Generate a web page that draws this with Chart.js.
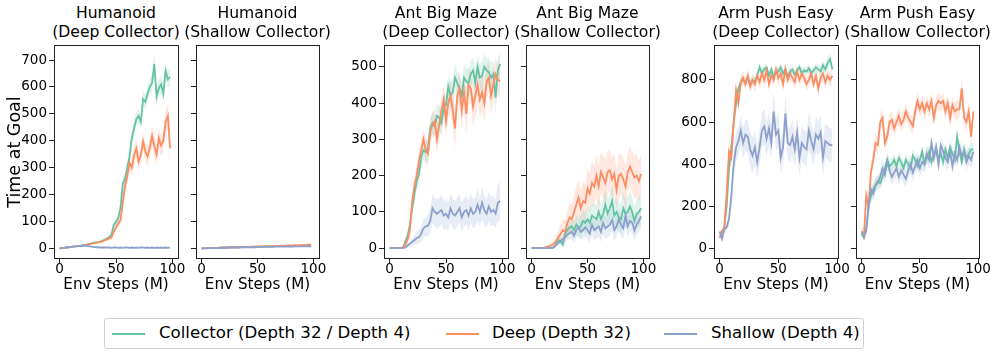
<!DOCTYPE html>
<html>
<head>
<meta charset="utf-8">
<script src="https://cdn.jsdelivr.net/npm/chart.js@4.4.1/dist/chart.umd.min.js"></script>
<style>
  body { margin: 0; background: #fff; font-family: "DejaVu Sans", sans-serif; }
  #page { position: relative; width: 996px; height: 354px; overflow: hidden; background: #fff; }
  canvas { position: absolute; }
  .ttl { position: absolute; top: 4px; width: 220px; text-align: center; font-size: 15.6px; line-height: 18.5px; color: #000; white-space: nowrap; }
  #ylab { position: absolute; left: -135.7px; top: 141.5px; width: 300px; height: 20px; line-height: 20px; text-align: center; font-size: 17.5px; color: #000; transform: rotate(-90deg); }
  #legend { position: absolute; left: 104px; top: 318px; width: 758px; height: 29px; border: 1px solid #cfcfcf; border-radius: 3px; }
  .sw { position: absolute; height: 2px; top: 333px; }
  .lt { position: absolute; top: 323px; font-size: 16.6px; line-height: 20px; color: #000; white-space: nowrap; }
</style>
</head>
<body>
<div id="page"></div>
<script>
// x values (Env Steps, M)
const stepsLong = [0,2,4,6,8,10,12,14,16,18,20,22,24,26,28,30,32,34,36,38,40,42,44,46,48,50,52,54,56,58,60,62,64,66,68,70,72,74,76,78,80,82,84,86,88,90,92,94,96,98];
const stepsArm = [0,2,4,6,8,10,12,14,16,18,20,22,24,26,28,30,32,34,36,38,40,42,44,46,48,50,52,54,56,58,60,62,64,66,68,70,72,74,76,78,80,82,84,86,88,90,92,94,96];

const ticksX = [0, 50, 100];
const ticksHumanoid = [0, 100, 200, 300, 400, 500, 600, 700];
const ticksAnt = [0, 100, 200, 300, 400, 500];
const ticksArm = [0, 200, 400, 600, 800];

const seriesNames = ["Collector (Depth 32 / Depth 4)", "Deep (Depth 32)", "Shallow (Depth 4)"];

// Humanoid (Deep Collector)
const hdC = [0,1,2,3,4,5,6,7,8,9,11,12,14,16,18,20,22,23,25,28,32,36,42,50,88,98,112,150,240,258,300,340,410,445,480,492,470,555,545,575,600,615,685,565,595,610,575,660,628,638];
const hdD = [0,1,2,3,4,5,6,7,8,9,10,12,13,15,17,19,20,22,24,26,30,33,37,40,62,78,92,105,170,230,268,318,300,345,372,322,345,398,360,342,375,418,380,348,410,382,400,470,492,372];
const hdS = [0,1,2,3,4,5,6,7,8,8,9,10,9,8,6,5,4,4,3,3,3,3,3,2,3,3,2,3,2,3,3,2,3,2,3,2,3,3,2,3,2,3,2,3,2,3,2,3,2,3];
const hdCs = [1,1,1,1,1,1,1,2,2,2,2,2,2,3,3,3,3,4,4,5,5,6,7,8,12,14,16,20,25,22,25,28,30,30,28,25,25,30,28,30,32,35,40,35,30,35,30,35,30,35];
const hdDs = [1,1,1,1,1,1,1,2,2,2,2,2,2,3,3,3,3,4,4,5,5,6,7,8,12,14,16,20,30,30,30,30,30,35,35,35,30,35,35,40,35,40,40,35,40,40,40,45,45,70];
const hdSs = [1,1,1,1,1,1,1,1,1,2,2,2,2,2,2,1,1,1,1,1,1,1,1,1,1,1,1,1,1,1,1,1,1,1,1,1,1,1,1,1,1,1,1,1,1,1,1,1,1,1];

// Humanoid (Shallow Collector)
const hsC = [0,0,1,1,1,2,2,2,2,3,3,3,3,4,4,4,4,4,5,5,5,5,5,6,6,6,6,6,7,7,7,7,7,8,8,8,8,8,8,9,9,9,9,9,9,10,10,9,10,10];
const hsD = [0,0,1,1,1,2,2,2,3,3,3,3,3,4,4,4,5,4,5,5,5,6,5,6,6,7,6,7,7,8,7,8,8,9,8,9,10,9,10,11,10,11,12,11,12,13,12,13,14,13];
const hsS = [0,0,0,1,1,1,1,2,2,2,2,2,3,3,3,3,3,3,4,4,4,4,4,4,4,5,5,5,5,5,5,5,5,6,6,6,6,6,6,6,6,6,7,7,7,7,7,7,7,7];
const hsCs = [1,1,1,1,1,1,1,1,1,1,2,2,2,2,2,2,2,2,2,2,2,2,2,2,2,2,2,2,2,2,2,2,2,2,2,2,2,2,2,2,2,2,2,2,2,2,2,2,2,2];
const hsDs = [1,1,1,1,1,1,1,1,1,1,2,2,2,2,2,2,2,2,2,2,2,2,2,2,2,2,2,2,2,2,3,3,3,3,3,3,3,3,3,3,3,3,3,3,3,3,3,3,4,4];
const hsSs = [1,1,1,1,1,1,1,1,1,1,1,1,1,1,1,1,1,1,2,2,2,2,2,2,2,2,2,2,2,2,2,2,2,2,2,2,2,2,2,2,2,2,2,2,2,2,2,2,2,2];

// Ant Big Maze (Deep Collector)
const adC = [0,0,0,0,0,0,2,20,35,65,110,150,185,205,250,270,265,275,330,345,335,365,360,345,390,395,445,420,430,470,455,440,420,470,460,455,480,490,455,500,470,475,500,490,485,470,480,415,490,508];
const adD = [0,0,0,0,0,0,3,10,25,50,130,170,200,240,270,300,270,260,320,340,350,300,340,380,410,350,400,420,380,330,420,440,380,430,370,450,440,390,420,450,410,430,400,460,470,420,450,480,465,460];
const adS = [0,0,0,0,0,0,0,2,8,12,18,22,28,30,40,55,60,62,75,110,100,95,100,105,90,95,85,110,95,90,100,110,85,100,105,90,110,95,100,120,100,125,105,95,115,100,105,95,125,130];
const adCs = [0,0,0,0,0,0,1,5,10,15,20,25,25,30,30,30,30,30,30,30,30,30,35,35,35,30,35,35,40,40,35,40,35,40,35,40,35,35,40,35,35,40,35,35,40,45,35,50,35,35];
const adDs = [0,0,0,0,0,0,1,5,10,20,25,25,30,30,30,30,35,35,35,35,35,40,40,40,40,45,40,45,50,55,45,45,55,45,60,50,45,55,60,45,50,50,55,45,45,55,50,45,45,45];
const adSs = [0,0,0,0,0,0,0,2,5,8,10,12,15,18,20,25,25,30,35,40,40,40,40,40,40,40,40,40,40,40,40,40,40,40,40,40,40,40,40,45,40,45,40,40,40,40,40,40,50,55];

// Ant Big Maze (Shallow Collector)
const asC = [0,0,0,0,0,0,0,0,0,0,2,10,22,20,10,40,50,58,60,50,65,55,60,75,70,80,70,90,85,80,100,80,95,120,95,110,130,90,100,85,80,110,95,100,115,100,75,95,100,110];
const asD = [0,0,0,0,0,0,2,4,6,8,12,20,30,40,50,45,70,85,80,100,120,140,110,130,125,165,150,180,170,200,170,210,195,180,210,215,190,205,160,200,205,190,170,210,225,210,195,200,185,205];
const asS = [0,0,0,0,0,0,0,0,0,0,3,10,15,20,25,30,38,42,45,35,50,58,45,50,58,50,40,65,50,55,60,45,70,55,60,65,78,50,60,80,65,55,90,60,75,70,50,65,75,88];
const asCs = [0,0,0,0,0,0,0,0,0,0,2,5,8,10,10,15,20,20,25,25,25,30,30,30,30,35,35,35,35,40,40,40,40,45,40,40,45,40,40,40,40,45,40,40,45,40,40,40,40,40];
const asDs = [0,0,0,0,0,0,2,4,6,8,10,15,20,25,30,30,35,40,40,45,50,50,50,55,50,55,55,60,55,60,60,55,60,65,60,55,60,55,55,60,55,55,60,55,55,55,60,60,55,55];
const asSs = [0,0,0,0,0,0,0,0,0,0,2,5,8,10,12,15,15,18,20,20,20,22,22,25,25,25,25,28,28,28,28,28,30,30,30,30,30,30,30,30,30,30,30,30,30,30,30,30,30,30];

// Arm Push Easy (Deep Collector)
const pdC = [70,75,100,200,380,480,600,690,760,790,800,790,810,780,800,790,820,860,830,850,860,820,850,810,845,840,860,830,850,815,840,850,825,845,860,830,845,840,855,830,845,860,850,840,870,850,880,900,850];
const pdD = [50,80,100,260,460,430,600,750,690,790,810,780,820,770,800,780,820,790,830,800,845,780,820,800,850,810,830,780,850,800,830,810,790,840,800,830,810,780,800,830,780,820,760,810,830,790,820,800,820];
const pdS = [80,45,90,100,140,250,400,480,510,560,500,540,530,470,440,480,410,480,560,580,520,570,500,650,540,560,430,480,640,500,490,530,470,550,430,500,480,470,560,510,470,540,520,550,430,510,500,490,490];
const pdCs = [10,10,15,30,40,40,40,35,30,25,20,20,20,20,20,20,20,20,20,25,20,20,20,20,20,20,20,20,20,20,20,20,20,20,20,20,20,20,20,20,20,20,20,25,20,25,30,25,25];
const pdDs = [15,15,20,40,50,50,50,45,35,30,30,30,35,30,30,35,30,30,35,30,30,35,30,30,30,35,30,30,35,30,30,30,35,30,30,35,30,30,35,30,30,35,30,30,35,30,30,35,35];
const pdSs = [15,15,15,20,30,50,60,70,70,70,75,75,80,80,85,80,80,85,80,85,80,85,80,90,80,80,85,80,90,80,80,85,80,80,85,80,80,80,85,80,80,85,80,80,85,80,80,80,80];

// Arm Push Easy (Shallow Collector)
const psC = [70,50,100,200,250,280,300,320,310,340,380,420,390,400,420,390,430,410,380,420,400,380,440,420,390,420,460,400,430,460,410,450,470,420,450,410,470,430,480,450,420,530,460,410,470,430,450,470,470];
const psD = [80,60,250,200,360,420,500,490,600,620,500,530,600,610,570,600,630,590,610,650,620,600,580,650,700,660,690,650,690,660,700,620,680,700,690,700,650,690,620,680,650,660,660,760,620,600,650,530,650];
const psS = [80,60,80,200,280,260,300,310,340,380,350,410,370,340,360,380,340,370,350,330,370,400,360,390,420,380,410,400,450,420,500,430,480,400,490,460,430,410,460,390,450,420,480,440,460,410,440,420,460];
const psCs = [15,15,20,25,30,30,30,30,30,30,30,30,30,30,30,30,30,30,30,30,30,30,30,30,30,30,30,30,30,30,30,30,30,30,30,30,30,30,30,30,30,30,35,30,30,30,30,30,30];
const psDs = [20,20,40,40,40,40,40,40,40,40,40,35,40,40,35,40,40,35,40,40,35,40,40,40,40,35,40,40,35,40,40,45,40,40,35,40,40,40,45,40,40,45,40,50,45,40,45,50,45];
const psSs = [20,20,25,35,35,35,35,35,35,40,40,40,40,40,40,40,40,40,40,40,40,40,40,40,40,40,40,40,40,45,40,40,40,40,40,40,40,40,40,40,40,40,40,40,40,40,40,40,40];

const colors = ["#66c2a5", "#fc8d62", "#8da0cb"];
const bandColors = ["rgba(102,194,165,0.2)", "rgba(252,141,98,0.2)", "rgba(141,160,203,0.2)"];

const panels = [
  { title: ["Humanoid", "(Deep Collector)"], left: 54, right: 178, steps: stepsLong, xMin: -5, xMax: 105, yMin: -36, yMax: 756, yTicks: ticksHumanoid, labels: true, means: [hdC, hdD, hdS], spreads: [hdCs, hdDs, hdSs] },
  { title: ["Humanoid", "(Shallow Collector)"], left: 196, right: 319, steps: stepsLong, xMin: -5, xMax: 105, yMin: -36, yMax: 756, yTicks: ticksHumanoid, labels: false, means: [hsC, hsD, hsS], spreads: [hsCs, hsDs, hsSs] },
  { title: ["Ant Big Maze", "(Deep Collector)"], left: 384, right: 508, steps: stepsLong, xMin: -5, xMax: 105, yMin: -27, yMax: 560, yTicks: ticksAnt, labels: true, means: [adC, adD, adS], spreads: [adCs, adDs, adSs] },
  { title: ["Ant Big Maze", "(Shallow Collector)"], left: 526, right: 649, steps: stepsLong, xMin: -5, xMax: 105, yMin: -27, yMax: 560, yTicks: ticksAnt, labels: false, means: [asC, asD, asS], spreads: [asCs, asDs, asSs] },
  { title: ["Arm Push Easy", "(Deep Collector)"], left: 714, right: 838, steps: stepsArm, xMin: -4.8, xMax: 100.8, yMin: -46, yMax: 966, yTicks: ticksArm, labels: true, means: [pdC, pdD, pdS], spreads: [pdCs, pdDs, pdSs] },
  { title: ["Arm Push Easy", "(Shallow Collector)"], left: 856, right: 979, steps: stepsArm, xMin: -4.8, xMax: 100.8, yMin: -46, yMax: 966, yTicks: ticksArm, labels: false, means: [psC, psD, psS], spreads: [psCs, psDs, psSs] }
];

const page = document.getElementById("page");
const AXIS_W = 54, X_AXIS_H = 42, TOP = 43, PAD_R = 20;

const frame = {
  id: "frame",
  afterDraw(chart) {
    const { ctx, chartArea: a } = chart;
    ctx.save();
    ctx.strokeStyle = "#222";
    ctx.lineWidth = 1;
    ctx.strokeRect(Math.round(a.left) + 0.5, Math.round(a.top) + 0.5, Math.round(a.right - a.left), Math.round(a.bottom - a.top));
    ctx.restore();
  }
};

function makePanel(p) {
  const canvas = document.createElement("canvas");
  const w = AXIS_W + (p.right - p.left) + PAD_R;
  const h = (258 - TOP) + X_AXIS_H;
  canvas.width = w; canvas.height = h;
  canvas.style.left = (p.left - AXIS_W) + "px";
  canvas.style.top = TOP + "px";
  canvas.style.width = w + "px"; canvas.style.height = h + "px";
  page.appendChild(canvas);

  const title = document.createElement("div");
  title.className = "ttl";
  title.style.left = ((p.left + p.right) / 2 - 110) + "px";
  title.innerHTML = p.title.join("<br>");
  page.appendChild(title);

  const datasets = [];
  p.means.forEach((m, k) => {
    datasets.push({ data: p.steps.map((x, i) => ({ x, y: m[i] + p.spreads[k][i] })), borderWidth: 0, pointRadius: 0, backgroundColor: bandColors[k], fill: "+1", order: 10 });
    datasets.push({ data: p.steps.map((x, i) => ({ x, y: m[i] - p.spreads[k][i] })), borderWidth: 0, pointRadius: 0, fill: false, order: 10 });
  });
  p.means.forEach((m, k) => {
    datasets.push({ label: seriesNames[k], data: p.steps.map((x, i) => ({ x, y: m[i] })), borderColor: colors[k], borderWidth: 1.8, pointRadius: 0, fill: false, tension: 0, order: 3 - k });
  });

  const tickFont = { family: "'DejaVu Sans'", size: 13.5, lineHeight: 1 };
  new Chart(canvas, {
    type: "line",
    data: { datasets },
    options: {
      responsive: false, animation: false, devicePixelRatio: 1, events: [],
      layout: { padding: { left: 0, top: 2, right: PAD_R, bottom: 0 } },
      plugins: { legend: { display: false }, tooltip: { enabled: false } },
      scales: {
        x: {
          type: "linear", min: p.xMin, max: p.xMax,
          afterBuildTicks: s => { s.ticks = ticksX.map(v => ({ value: v })); },
          afterFit: s => { s.height = X_AXIS_H; s.paddingLeft = 0; s.paddingRight = 0; },
          grid: { drawOnChartArea: false, drawTicks: true, tickLength: 5, color: "#222", tickColor: "#222" },
          border: { display: true, color: "#222", width: 1 },
          ticks: { font: tickFont, color: "#000", padding: 0, maxRotation: 0, autoSkip: false },
          title: { display: true, text: "Env Steps (M)", font: { family: "'DejaVu Sans'", size: 15.2, lineHeight: 1.2 }, color: "#000", padding: { top: 0, bottom: 6 } }
        },
        y: {
          type: "linear", min: p.yMin, max: p.yMax,
          afterBuildTicks: s => { s.ticks = p.yTicks.map(v => ({ value: v })); },
          afterFit: s => { s.width = AXIS_W; s.paddingTop = 0; s.paddingBottom = 0; },
          grid: { drawOnChartArea: false, drawTicks: true, tickLength: 5, color: "#222", tickColor: "#222" },
          border: { display: true, color: "#222", width: 1 },
          ticks: { display: p.labels, font: tickFont, color: "#000", padding: 2, autoSkip: false }
        }
      }
    },
    plugins: [frame]
  });
}

panels.forEach(makePanel);

const ylab = document.createElement("div");
ylab.id = "ylab";
ylab.textContent = "Time at Goal";
page.appendChild(ylab);

const legend = document.createElement("div");
legend.id = "legend";
page.appendChild(legend);
const swatchX = [[112, 145], [446, 479], [664, 697]];
const textX = [159, 492, 711];
seriesNames.forEach((name, k) => {
  const sw = document.createElement("div");
  sw.className = "sw";
  sw.style.left = swatchX[k][0] + "px";
  sw.style.width = (swatchX[k][1] - swatchX[k][0]) + "px";
  sw.style.background = colors[k];
  page.appendChild(sw);
  const t = document.createElement("div");
  t.className = "lt";
  t.style.left = textX[k] + "px";
  t.textContent = name;
  page.appendChild(t);
});
</script>
</body>
</html>
